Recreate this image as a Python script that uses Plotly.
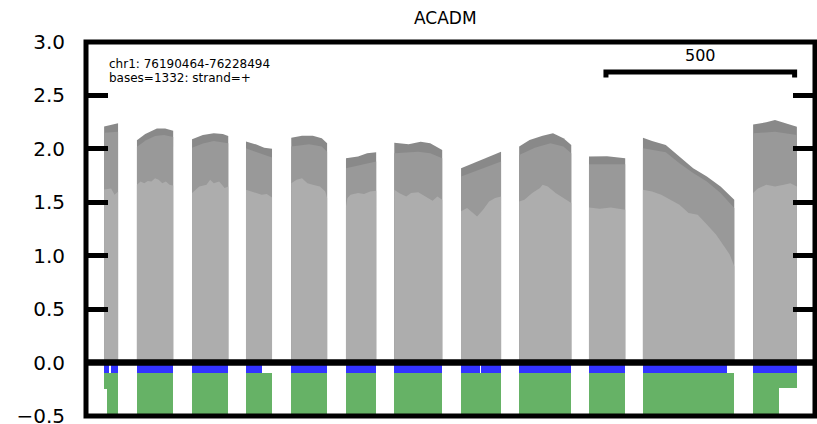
import plotly.graph_objects as go

# ---------------- data ----------------
title_text = "ACADM"
region_text = "chr1: 76190464-76228494"
info_text = "bases=1332: strand=+"
scale_bases = 500
scale_end = 1830

# exon extents on the concatenated display axis (bases, introns shown as gaps)
exon_start = [0, 87, 233, 376, 496, 641, 769, 946, 1100, 1285, 1428, 1720]
exon_end = [37, 183, 329, 445, 591, 721, 896, 1052, 1238, 1381, 1670, 1836]

# coverage profiles per exon: (relative position within exon, value)
upper_band = [
    [(0, 2.21), (1, 2.24)],
    [(0, 2.08), (0.23, 2.14), (0.55, 2.19), (0.78, 2.19), (1, 2.17)],
    [(0, 2.09), (0.3, 2.13), (0.6, 2.145), (0.85, 2.14), (1, 2.12)],
    [(0, 2.07), (0.4, 2.04), (0.7, 2.01), (1, 2.0)],
    [(0, 2.105), (0.3, 2.123), (0.6, 2.123), (0.85, 2.099), (1, 2.052)],
    [(0, 1.912), (0.4, 1.928), (0.7, 1.959), (1, 1.968)],
    [(0, 2.058), (0.3, 2.043), (0.55, 2.067), (0.75, 2.052), (1, 1.99)],
    [(0, 1.819), (0.5, 1.897), (1, 1.974)],
    [(0, 2.021), (0.2, 2.083), (0.45, 2.123), (0.65, 2.145), (0.85, 2.099), (1, 2.036)],
    [(0, 1.928), (0.5, 1.93), (1, 1.912)],
    [(0, 2.105), (0.1, 2.074), (0.25, 2.036), (0.4, 1.928), (0.55, 1.819),
     (0.7, 1.741), (0.85, 1.648), (1, 1.524)],
    [(0, 2.229), (0.3, 2.248), (0.5, 2.269), (0.75, 2.238), (1, 2.207)],
]
middle_band = [
    [(0, 2.15), (1, 2.16)],
    [(0, 2.02), (0.25, 2.08), (0.5, 2.12), (0.75, 2.13), (1, 2.11)],
    [(0, 2.011), (0.3, 2.05), (0.6, 2.074), (1, 2.052)],
    [(0, 2.005), (0.5, 1.96), (1, 1.918)],
    [(0, 2.021), (0.5, 2.043), (0.85, 2.021), (1, 1.974)],
    [(0, 1.819), (0.5, 1.85), (1, 1.881)],
    [(0, 1.959), (0.5, 1.974), (0.75, 1.959), (1, 1.912)],
    [(0, 1.741), (0.5, 1.81), (1, 1.881)],
    [(0, 1.943), (0.3, 2.011), (0.6, 2.052), (0.85, 2.021), (1, 1.959)],
    [(0, 1.856), (0.5, 1.858), (1, 1.856)],
    [(0, 2.005), (0.25, 1.968), (0.4, 1.866), (0.55, 1.773), (0.7, 1.694),
     (0.85, 1.586), (1, 1.446)],
    [(0, 2.145), (0.5, 2.16), (1, 2.13)],
]
lower_band = [
    [(0, 1.62), (0.5, 1.63), (0.75, 1.57), (1, 1.60)],
    [(0, 1.664), (0.1, 1.694), (0.2, 1.679), (0.3, 1.70), (0.4, 1.694), (0.5, 1.726),
     (0.6, 1.71), (0.7, 1.679), (0.8, 1.694), (0.9, 1.664), (1, 1.657)],
    [(0, 1.586), (0.2, 1.648), (0.4, 1.664), (0.5, 1.71), (0.6, 1.679), (0.75, 1.694),
     (0.9, 1.633), (1, 1.648)],
    [(0, 1.617), (0.3, 1.595), (0.6, 1.57), (0.8, 1.578), (1, 1.545)],
    [(0, 1.679), (0.15, 1.71), (0.3, 1.726), (0.45, 1.679), (0.6, 1.664), (0.8, 1.648),
     (0.95, 1.60), (1, 1.54)],
    [(0, 1.461), (0.05, 1.54), (0.15, 1.57), (0.4, 1.586), (0.6, 1.578), (0.8, 1.601),
     (1, 1.607)],
    [(0, 1.617), (0.1, 1.586), (0.25, 1.555), (0.35, 1.586), (0.5, 1.595), (0.6, 1.57),
     (0.7, 1.54), (0.8, 1.514), (0.9, 1.555), (1, 1.524)],
    [(0, 1.415), (0.15, 1.446), (0.3, 1.40), (0.4, 1.368), (0.55, 1.431), (0.7, 1.508),
     (0.85, 1.54), (1, 1.555)],
    [(0, 1.508), (0.1, 1.524), (0.25, 1.586), (0.4, 1.633), (0.45, 1.664), (0.55, 1.648),
     (0.7, 1.586), (0.85, 1.54), (1, 1.493)],
    [(0, 1.452), (0.3, 1.44), (0.6, 1.452), (1, 1.431)],
    [(0, 1.617), (0.1, 1.601), (0.2, 1.57), (0.3, 1.524), (0.4, 1.477), (0.5, 1.40),
     (0.6, 1.384), (0.7, 1.291), (0.8, 1.198), (0.9, 1.074), (0.95, 1.011), (1, 0.902)],
    [(0, 1.586), (0.1, 1.626), (0.3, 1.664), (0.5, 1.648), (0.7, 1.664), (0.85, 1.679),
     (1, 1.648)],
]

# annotation tracks below zero
blue_start = [0, 17, 87, 233, 376, 496, 641, 769, 946, 1000, 1100, 1285, 1428, 1720]
blue_end = [12, 37, 183, 329, 419, 591, 721, 896, 995, 1052, 1238, 1381, 1651, 1836]
blue_top, blue_bottom = 0.0, -0.1

green_start = [0, 8, 87, 233, 376, 496, 641, 769, 946, 1100, 1285, 1428, 1720, 1789]
green_end = [8, 37, 183, 329, 445, 591, 721, 896, 1052, 1238, 1381, 1670, 1789, 1836]
green_bottom = [-0.25, -0.5, -0.5, -0.5, -0.5, -0.5, -0.5, -0.5, -0.5, -0.5, -0.5, -0.5, -0.5, -0.24]
green_top = -0.1

y_ticks = [-0.5, 0.0, 0.5, 1.0, 1.5, 2.0, 2.5, 3.0]

# ---------------- styling ----------------
FONT = "DejaVu Sans"
C_UP, C_MID, C_LOW = "#898989", "#999999", "#adadad"
C_BLUE, C_GREEN = "#3333ff", "#66b266"

fig = go.Figure()

for band, col in ((upper_band, C_UP), (middle_band, C_MID), (lower_band, C_LOW)):
    for s, e, prof in zip(exon_start, exon_end, band):
        xs = [s + f * (e - s) for f, _ in prof]
        ys = [v for _, v in prof]
        fig.add_trace(go.Scatter(x=xs, y=ys, mode="lines", fill="tozeroy",
                                 fillcolor=col, line=dict(width=0, color=col),
                                 hoverinfo="skip"))

fig.add_trace(go.Bar(
    x=[(a + b) / 2 for a, b in zip(blue_start, blue_end)],
    width=[b - a for a, b in zip(blue_start, blue_end)],
    base=[blue_bottom] * len(blue_start),
    y=[blue_top - blue_bottom] * len(blue_start),
    marker=dict(color=C_BLUE, line=dict(width=0)), hoverinfo="skip"))

fig.add_trace(go.Bar(
    x=[(a + b) / 2 for a, b in zip(green_start, green_end)],
    width=[b - a for a, b in zip(green_start, green_end)],
    base=green_bottom,
    y=[green_top - g for g in green_bottom],
    marker=dict(color=C_GREEN, line=dict(width=0)), hoverinfo="skip"))

# zero line, frame, scale bar
fig.add_shape(type="line", xref="paper", yref="y", x0=0, x1=1, y0=0, y1=0,
              line=dict(color="black", width=6.5))
fig.add_shape(type="rect", xref="paper", yref="paper", x0=0, x1=1, y0=0, y1=1,
              line=dict(color="black", width=5))
sb0, sb1 = scale_end - scale_bases, scale_end
fig.add_shape(type="path", xref="x", yref="paper",
              path=f"M {sb0},0.905 L {sb0},0.9198 L {sb1},0.9198 L {sb1},0.905",
              line=dict(color="black", width=5))
fig.add_annotation(x=(sb0 + sb1) / 2, xref="x", y=0.9626, yref="paper",
                   text=str(scale_bases), showarrow=False,
                   font=dict(family=FONT, size=16, color="black"),
                   xanchor="center", yanchor="middle")

fig.add_annotation(x=0.0288, xref="paper", y=0.941, yref="paper", text=region_text,
                   showarrow=False, font=dict(family=FONT, size=12, color="black"),
                   xanchor="left", yanchor="middle")
fig.add_annotation(x=0.0288, xref="paper", y=0.903, yref="paper", text=info_text,
                   showarrow=False, font=dict(family=FONT, size=12, color="black"),
                   xanchor="left", yanchor="middle")
fig.add_annotation(x=0.4925, xref="paper", y=1.064, yref="paper", text=title_text,
                   showarrow=False, font=dict(family=FONT, size=17, color="black"),
                   xanchor="center", yanchor="middle")

fig.update_layout(
    width=817, height=424,
    margin=dict(l=86, r=2, t=42, b=8),
    paper_bgcolor="white", plot_bgcolor="white",
    showlegend=False, barmode="overlay", bargap=0,
    font=dict(family=FONT, color="black"),
    xaxis=dict(range=[-48, 1884], showgrid=False, zeroline=False, showline=False,
               showticklabels=False, ticks="", fixedrange=True),
    yaxis=dict(range=[-0.5, 3.0], tickvals=y_ticks, tickformat=".1f",
               showgrid=False, zeroline=False, showline=False,
               ticks="inside", ticklen=22, tickwidth=5, tickcolor="black",
               mirror="ticks", ticklabelstandoff=20, ticklabeloverflow="allow",
               automargin=False,
               tickfont=dict(family=FONT, size=20, color="black"), fixedrange=True),
)

fig.write_html("out.html", config={"displayModeBar": False},
               post_script="document.body.style.margin='0';document.body.style.overflow='hidden';")
